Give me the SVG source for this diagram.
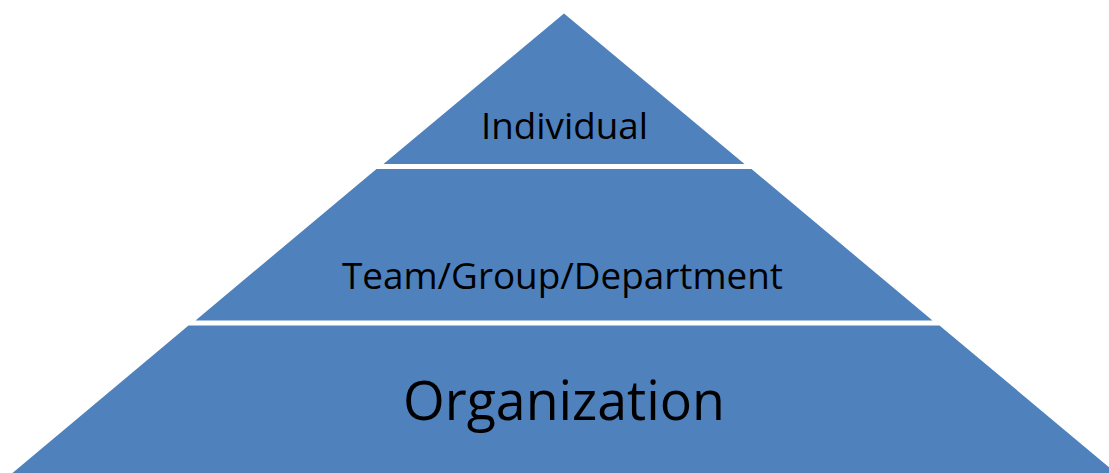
<svg xmlns="http://www.w3.org/2000/svg" width="1109" height="473" viewBox="0 0 1109 473">
<style>
.tier{fill:#4F81BD;stroke:none}
.lbl{font-family:"Open Sans","Liberation Sans",sans-serif;fill:#000;text-anchor:middle}
</style>
<rect width="1109" height="473" fill="#FFFFFF"/>
<g id="individual">
<polygon class="tier" points="564,13.5 744.5,164 383.5,164"/>
<text class="lbl" x="564.5" y="139" font-size="36.5" textLength="167" lengthAdjust="spacingAndGlyphs">Individual</text>
</g>
<g id="team">
<polygon class="tier" points="376.5,169 751.5,169 932.5,320.5 195.5,320.5"/>
<text class="lbl" x="562.5" y="289" font-size="36.5" textLength="441" lengthAdjust="spacingAndGlyphs">Team/Group/Department</text>
</g>
<g id="organization">
<polygon class="tier" points="188.5,325.5 939.5,325.5 1116,473 12.5,473"/>
<text class="lbl" x="564" y="419.5" font-size="54" textLength="322" lengthAdjust="spacingAndGlyphs">Organization</text>
</g>
<g id="connectors"></g>
</svg>
